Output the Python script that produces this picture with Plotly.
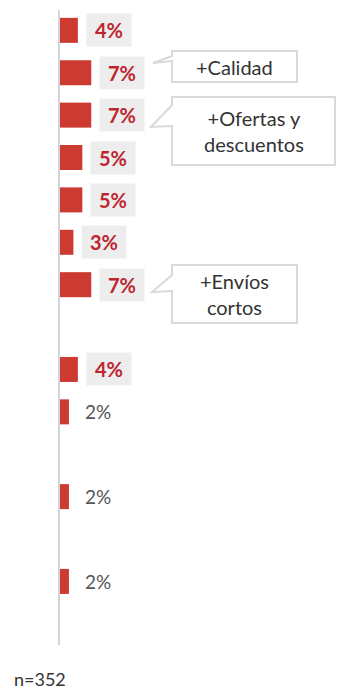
import plotly.graph_objects as go

# --- data -------------------------------------------------------------
values = [4, 7, 7, 5, 5, 3, 7, 4, 2, 2, 2]
value_labels = [f"{v}%" for v in values]
sample_note = "n=352"
callout_texts = ["+Calidad", "+Ofertas y<br>descuentos", "+Envíos<br>cortos"]

# --- layout / styling -------------------------------------------------
W, H = 337, 692
M_L, M_R, M_T, M_B = 60, 0, 10, 47
PLOT_W, PLOT_H = W - M_L - M_R, H - M_T - M_B
X_MAX = 62.0
Y_TOP, Y_BOTTOM = -0.48, 14.50

# empty rows inserted before some bars
spacer_before = [0, 0, 0, 0, 0, 0, 0, 1, 0, 1, 1]
positions = []
slot = 0
for gap in spacer_before:
    slot += gap
    positions.append(slot)
    slot += 1

boxed = [True] * 8 + [False] * 3

BAR_COLOR = "#cd3a32"
LABEL_RED = "#bd2530"
LABEL_BG = "#ededed"
GREY_TEXT = "#555555"
DARK_TEXT = "#333333"
BORDER = "#d9d9d9"
FONT = "Lato"


def px(x):
    """figure pixel x -> paper x"""
    return (x - M_L) / PLOT_W


def py(y):
    """figure pixel y -> paper y"""
    return 1 - (y - M_T) / PLOT_H


fig = go.Figure(
    go.Bar(
        x=values,
        y=positions,
        orientation="h",
        width=0.59,
        marker=dict(color=BAR_COLOR, line=dict(width=0)),
        hoverinfo="skip",
    )
)

annotations = []
for v, pos, lab, b in zip(values, positions, value_labels, boxed):
    if b:
        annotations.append(dict(
            x=v, y=pos, xref="x", yref="y", text=f"<b>{lab}</b>",
            showarrow=False, xanchor="left", yanchor="middle", xshift=8,
            width=44, height=32, bgcolor=LABEL_BG, borderpad=0,
            font=dict(family=FONT, size=20, color=LABEL_RED),
        ))
    else:
        annotations.append(dict(
            x=v, y=pos, xref="x", yref="y", text=lab,
            showarrow=False, xanchor="left", yanchor="middle", xshift=14,
            font=dict(family=FONT, size=19, color=GREY_TEXT),
        ))

# speech-bubble callouts: box (left, top, right, bottom), tail (upper attach, tip, lower attach)
callouts = [
    dict(box=(172, 51, 297, 82), tail=(56, (153, 63), 61)),
    dict(box=(172, 97, 335, 165), tail=(105, (151, 127), 126)),
    dict(box=(172, 265, 297, 323), tail=(275, (152, 292), 291)),
]

shapes = []
for c, txt in zip(callouts, callout_texts):
    l, t, r, b = c["box"]
    up, (tx, ty), lo = c["tail"]
    pts = [(l, up), (l, t), (r, t), (r, b), (l, b), (l, lo), (tx, ty), (l, up)]
    path = "M " + " L ".join(f"{px(x):.5f},{py(y):.5f}" for x, y in pts) + " Z"
    shapes.append(dict(
        type="path", path=path, xref="paper", yref="paper",
        line=dict(color=BORDER, width=2), fillcolor="white", layer="above",
    ))
    annotations.append(dict(
        x=px((l + r) / 2), y=py((t + b) / 2), xref="paper", yref="paper",
        text=txt, showarrow=False, xanchor="center", yanchor="middle",
        align="center", font=dict(family=FONT, size=20, color=DARK_TEXT),
    ))

annotations.append(dict(
    x=px(12), y=py(679), xref="paper", yref="paper", text=sample_note,
    showarrow=False, xanchor="left", yanchor="middle",
    font=dict(family=FONT, size=18, color=DARK_TEXT),
))

fig.update_layout(
    width=W, height=H,
    margin=dict(l=M_L, r=M_R, t=M_T, b=M_B, pad=0),
    paper_bgcolor="white", plot_bgcolor="white",
    showlegend=False,
    xaxis=dict(range=[0, X_MAX], visible=False, fixedrange=True),
    yaxis=dict(
        range=[Y_BOTTOM, Y_TOP], showticklabels=False, ticks="",
        showgrid=False, zeroline=False, showline=True,
        linecolor="#d4d4dc", linewidth=2, fixedrange=True,
    ),
    annotations=annotations,
    shapes=shapes,
)

fig.write_html("out.html", config=dict(displayModeBar=False))
